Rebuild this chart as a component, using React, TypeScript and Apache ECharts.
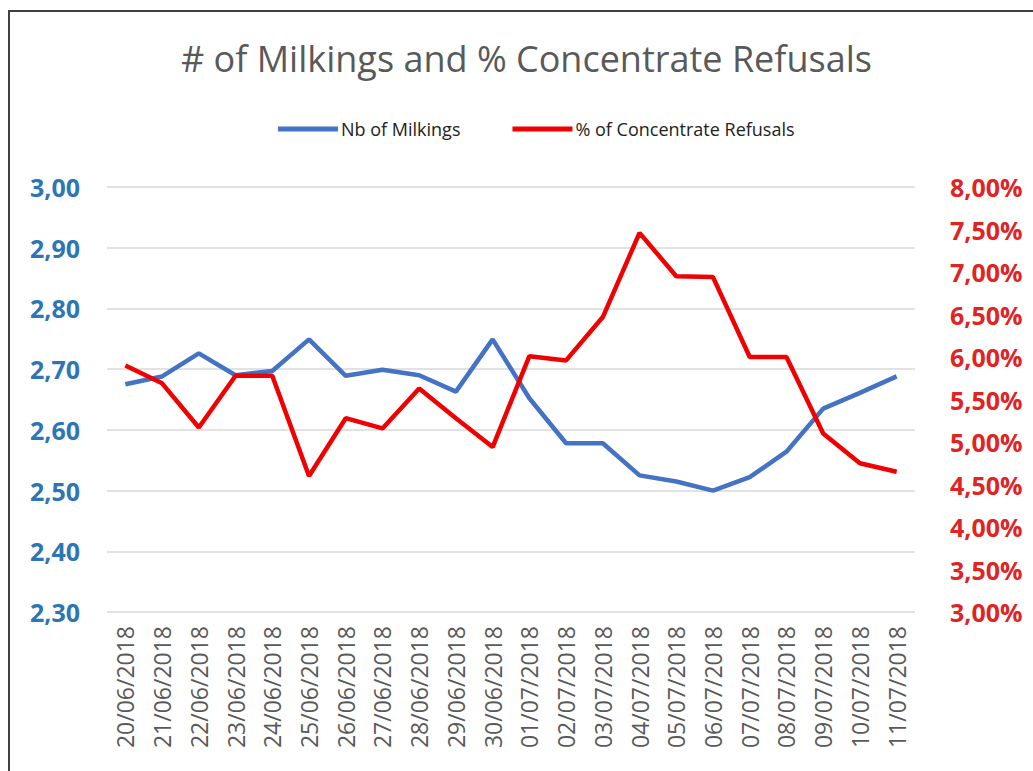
import React, { useEffect, useRef } from "react";
import * as echarts from "echarts";

const categories = [
  "20/06/2018", "21/06/2018", "22/06/2018", "23/06/2018", "24/06/2018", "25/06/2018",
  "26/06/2018", "27/06/2018", "28/06/2018", "29/06/2018", "30/06/2018", "01/07/2018",
  "02/07/2018", "03/07/2018", "04/07/2018", "05/07/2018", "06/07/2018", "07/07/2018",
  "08/07/2018", "09/07/2018", "10/07/2018", "11/07/2018",
];

const milkings = [
  2.675, 2.688, 2.726, 2.69, 2.697, 2.749, 2.689, 2.699, 2.69, 2.663, 2.749, 2.652,
  2.578, 2.578, 2.525, 2.515, 2.5, 2.522, 2.564, 2.635, 2.661, 2.688,
];

const refusals = [
  5.9, 5.69, 5.17, 5.78, 5.78, 4.6, 5.28, 5.16, 5.63, 5.28, 4.94, 6.01,
  5.96, 6.47, 7.46, 6.95, 6.94, 6.0, 6.0, 5.1, 4.75, 4.65,
];

const seriesNames = ["Nb of Milkings", "% of Concentrate Refusals"];
const titleText = "# of Milkings and % Concentrate Refusals";

export default function App() {
  const ref = useRef<HTMLDivElement>(null);
  useEffect(() => {
    const chart = echarts.init(ref.current!, null, { renderer: "svg" });
    const font = "'Open Sans', 'Liberation Sans', sans-serif";
    chart.setOption({
      animation: false,
      backgroundColor: "#ffffff",
      title: {
        text: titleText,
        left: 176,
        top: 35,
        textStyle: { fontFamily: font, fontSize: 36, fontWeight: "normal", color: "#595959" },
      },
      legend: {
        left: 273,
        top: 115,
        itemWidth: 60,
        itemHeight: 5,
        itemGap: 52,
        icon: "rect",
        textStyle: { fontFamily: font, fontSize: 18, color: "#222222", padding: [0, 0, 0, -2] },
        data: seriesNames,
      },
      graphic: [
        {
          type: "rect",
          shape: { x: 9, y: 11, width: 1100, height: 900 },
          style: { fill: "none", stroke: "#404040", lineWidth: 2 },
          silent: true,
        },
      ],
      grid: { left: 107, right: 118, top: 187, bottom: 159, containLabel: false },
      xAxis: {
        type: "category",
        data: categories,
        boundaryGap: true,
        axisLine: { show: false },
        axisTick: { show: false },
        axisLabel: {
          rotate: 90,
          interval: 0,
          margin: 14,
          fontFamily: font,
          fontSize: 23,
          color: "#595959",
        },
      },
      yAxis: [
        {
          type: "value",
          min: 2.3,
          max: 3.0,
          interval: 0.1,
          axisLine: { show: false },
          axisTick: { show: false },
          splitLine: { lineStyle: { color: "#d9d9d9", width: 1.5 } },
          axisLabel: {
            margin: 27,
            fontFamily: font,
            fontSize: 25,
            fontWeight: "bold",
            color: "#2E75B6",
            formatter: (v: number) => v.toFixed(2).replace(".", ","),
          },
        },
        {
          type: "value",
          min: 3,
          max: 8,
          interval: 0.5,
          axisLine: { show: false },
          axisTick: { show: false },
          splitLine: { show: false },
          axisLabel: {
            margin: 35,
            fontFamily: font,
            fontSize: 25,
            fontWeight: "bold",
            color: "#E02424",
            formatter: (v: number) => v.toFixed(2).replace(".", ",") + "%",
          },
        },
      ],
      series: [
        {
          name: seriesNames[0],
          type: "line",
          data: milkings,
          yAxisIndex: 0,
          symbol: "none",
          lineStyle: { color: "#4472C4", width: 4.5 },
          itemStyle: { color: "#4472C4" },
        },
        {
          name: seriesNames[1],
          type: "line",
          data: refusals,
          yAxisIndex: 1,
          symbol: "none",
          lineStyle: { color: "#F00000", width: 4.5 },
          itemStyle: { color: "#F00000" },
        },
      ],
    });
    return () => chart.dispose();
  }, []);
  return (
    <div
      ref={ref}
      style={{ position: "absolute", left: 0, top: 0, width: 1033, height: 771 }}
    />
  );
}
